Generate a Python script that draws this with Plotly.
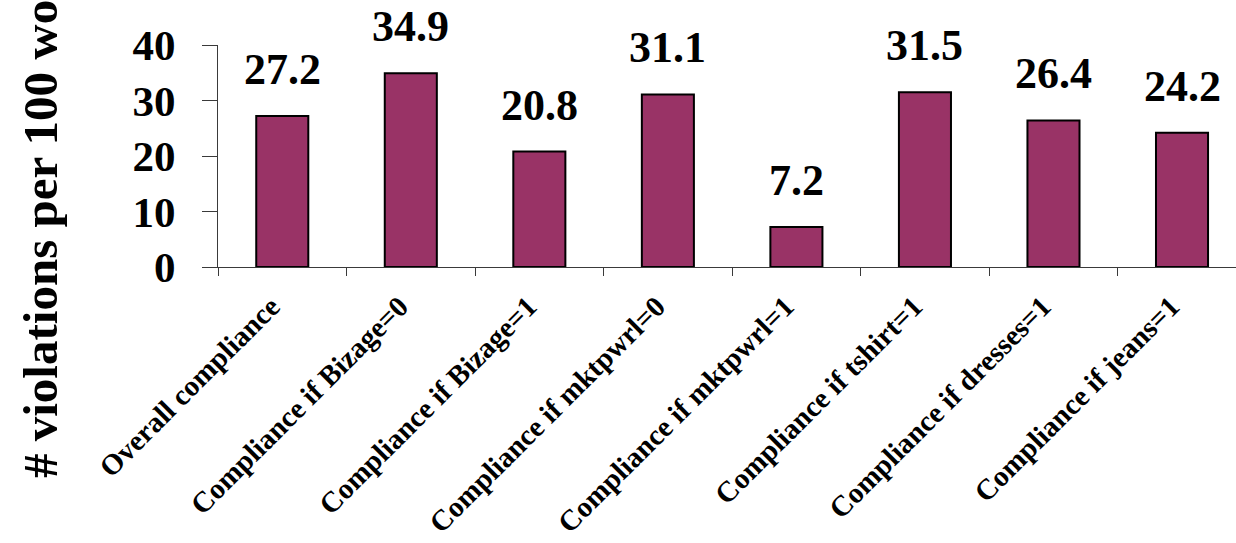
import plotly.graph_objects as go

categories = [
    "Overall compliance",
    "Compliance if Bizage=0",
    "Compliance if Bizage=1",
    "Compliance if mktpwrl=0",
    "Compliance if mktpwrl=1",
    "Compliance if tshirt=1",
    "Compliance if dresses=1",
    "Compliance if jeans=1",
]
values = [27.2, 34.9, 20.8, 31.1, 7.2, 31.5, 26.4, 24.2]
y_ticks = [0, 10, 20, 30, 40]
y_title = "# violations per 100 workers"

FONT = "Liberation Serif"
AXIS_COLOR = "#3a3a3a"

fig = go.Figure()
fig.add_trace(go.Bar(
    x=categories,
    y=values,
    marker=dict(color="#993366", line=dict(color="black", width=2)),
    width=0.405,
    hoverinfo="x+y",
))

# value labels above each bar
for cat, v in zip(categories, values):
    fig.add_annotation(
        x=cat, y=v, xref="x", yref="y",
        text=f"<b>{v:.1f}</b>",
        showarrow=False, yanchor="bottom", yshift=20,
        font=dict(family=FONT, size=44, color="black"),
    )

W, H = 1236, 543
L, R, T, B = 218, 0, 45, 276

# rotated y-axis title, anchored at its lower end
fig.add_annotation(
    x=(40 - L) / (W - L - R), xref="paper",
    y=-(480 - (H - B)) / (H - T - B), yref="paper",
    text=f"<b>{y_title}</b>", textangle=-90,
    showarrow=False, xanchor="center", yanchor="bottom",
    font=dict(family=FONT, size=49, color="black"),
)

fig.update_layout(
    width=W, height=H,
    margin=dict(l=L, r=R, t=T, b=B, pad=0, autoexpand=False),
    paper_bgcolor="white", plot_bgcolor="white",
    showlegend=False,
    font=dict(family=FONT, color="black"),
    xaxis=dict(
        type="category",
        automargin=False,
        range=[-0.5, 7.42],
        showline=True, linecolor=AXIS_COLOR, linewidth=1,
        ticks="outside", tickson="boundaries", ticklen=8,
        tickcolor=AXIS_COLOR, tickwidth=1,
        tickangle=-45,
        tickfont=dict(family=FONT, size=29, color="black", weight="bold"),
        ticklabelstandoff=10,
        ticklabelshift=-11,
        showgrid=False, zeroline=False,
    ),
    yaxis=dict(
        automargin=False,
        range=[0, 40],
        tickvals=y_ticks,
        showline=True, linecolor=AXIS_COLOR, linewidth=1,
        ticks="outside", ticklen=15, tickcolor=AXIS_COLOR, tickwidth=1,
        tickfont=dict(family=FONT, size=43, color="black", weight="bold"),
        ticklabelstandoff=18,
        showgrid=False, zeroline=False,
    ),
)

fig.write_html("out.html")
